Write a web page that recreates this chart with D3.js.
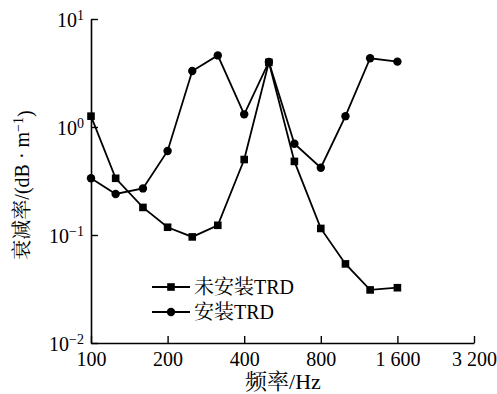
<!DOCTYPE html>
<html>
<head>
<meta charset="utf-8">
<script src="https://cdn.jsdelivr.net/npm/d3@7/dist/d3.min.js"></script>
<style>
  html, body { margin: 0; padding: 0; background: #fff; }
  svg { display: block; }
</style>
</head>
<body>
<svg id="chart" width="497" height="394"></svg>
<script>
// 1/3-octave band centre frequencies (Hz)
const freqs = [100, 125, 160, 200, 250, 315, 400, 500, 630, 800, 1000, 1250, 1600];
// decay rate without TRD (dB/m)
const decayWithout = [1.26, 0.335, 0.18, 0.118, 0.096, 0.123, 0.50, 3.97, 0.48, 0.115, 0.054, 0.031, 0.0325];
// decay rate with TRD (dB/m)
const decayWith = [0.335, 0.24, 0.27, 0.6, 3.3, 4.6, 1.31, 4.0, 0.70, 0.42, 1.26, 4.33, 4.03];

const xTicks = [100, 200, 400, 800, 1600, 3200];
const xTickLabels = ["100", "200", "400", "800", "1 600", "3 200"];
const yTicks = [0.01, 0.1, 1, 10];
const yTickExps = ["\u22122", "\u22121", "0", "1"];

const seriesNames = ["未安装TRD", "安装TRD"];

const FONT = '"Liberation Serif", "Noto Serif CJK SC"';

const svg = d3.select("#chart");
const plotLeft = 91, plotRight = 474, plotTop = 19, plotBottom = 343;

const x = d3.scaleLog().base(2).domain([100, 3200]).range([plotLeft, plotRight]);
const y = d3.scaleLog().domain([0.01, 10]).range([plotBottom, plotTop]);

// axes with inward ticks
const xAxis = svg.append("g")
  .attr("transform", `translate(0,${plotBottom})`)
  .call(d3.axisBottom(x).tickValues(xTicks).tickSizeInner(-7).tickSizeOuter(0)
    .tickFormat((d, i) => xTickLabels[i]).tickPadding(9));
const yAxis = svg.append("g")
  .attr("transform", `translate(${plotLeft},0)`)
  .call(d3.axisLeft(y).tickValues(yTicks).tickSizeInner(-7).tickSizeOuter(0)
    .tickFormat(() => "").tickPadding(8));

[xAxis, yAxis].forEach(g => {
  g.select(".domain").attr("stroke", "#000").attr("stroke-width", 1.6);
  g.selectAll(".tick line").attr("stroke", "#000").attr("stroke-width", 1.4);
});
xAxis.selectAll(".tick text")
  .style("font-family", FONT).attr("font-size", 20).attr("fill", "#000");

// y tick labels as 10 with superscript exponent
yAxis.selectAll(".tick").each(function (d) {
  const t = d3.select(this).select("text")
    .attr("x", -7).attr("dy", "0.35em")
    .style("font-family", FONT)
    .attr("font-size", 20).attr("text-anchor", "end").attr("fill", "#000");
  t.text(null);
  t.append("tspan").text("10");
  t.append("tspan").attr("dy", "-0.45em").attr("font-size", 14).text(yTickExps[yTicks.indexOf(d)]);
});

// axis titles
svg.append("text")
  .attr("x", 283).attr("y", 389)
  .style("font-family", FONT)
  .attr("text-anchor", "middle").attr("font-size", 22)
  .text("频率/Hz");

const yTitle = svg.append("text")
  .attr("transform", "translate(29,185) rotate(-90)")
  .style("font-family", FONT)
  .attr("text-anchor", "middle").attr("font-size", 20);
yTitle.append("tspan").text("衰减率/(dB · m");
yTitle.append("tspan").attr("dy", "-0.45em").attr("font-size", 14).text("\u22121");
yTitle.append("tspan").attr("dy", "0.45em").text(")");

// series
const line = d3.line().x(d => x(d[0])).y(d => y(d[1]));
const seriesData = [decayWithout, decayWith].map(vals => freqs.map((f, i) => [f, vals[i]]));

seriesData.forEach(pts => {
  svg.append("path")
    .datum(pts)
    .attr("d", line)
    .attr("fill", "none").attr("stroke", "#000").attr("stroke-width", 1.8);
});

function drawMarker(g, cx, cy, kind) {
  if (kind === 0) {
    g.append("rect").attr("x", cx - 3.8).attr("y", cy - 3.8)
      .attr("width", 7.6).attr("height", 7.6).attr("fill", "#000");
  } else {
    g.append("circle").attr("cx", cx).attr("cy", cy).attr("r", 4.2).attr("fill", "#000");
  }
}

const markers = svg.append("g");
seriesData.forEach((pts, si) => {
  pts.forEach(p => drawMarker(markers, x(p[0]), y(p[1]), si));
});

// legend
const legend = svg.append("g");
seriesNames.forEach((name, i) => {
  const ly = 287 + i * 25;
  legend.append("line").attr("x1", 152).attr("x2", 190).attr("y1", ly).attr("y2", ly)
    .attr("stroke", "#000").attr("stroke-width", 1.8);
  drawMarker(legend, 171, ly, i);
  legend.append("text").attr("x", 194).attr("y", ly).attr("dy", "0.36em")
    .style("font-family", FONT)
    .attr("font-size", 20).attr("fill", "#000").text(name);
});
</script>
</body>
</html>
